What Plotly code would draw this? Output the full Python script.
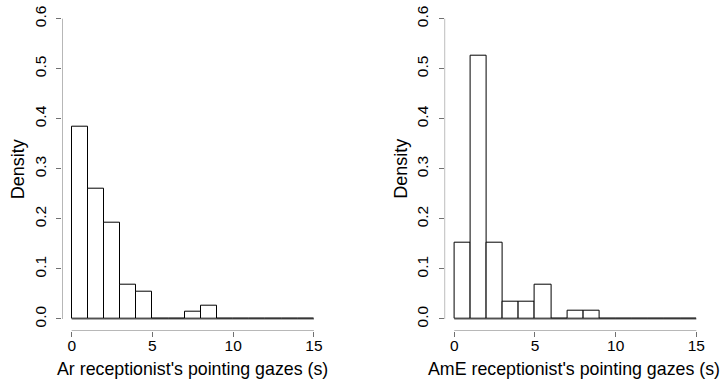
import plotly.graph_objects as go

bin_edges = list(range(0, 16))
ar_density = [28/73, 19/73, 14/73, 5/73, 4/73, 0, 0, 1/73, 2/73, 0, 0, 0, 0, 0, 0]
ame_density = [9/59, 31/59, 9/59, 2/59, 2/59, 4/59, 0, 1/59, 1/59, 0, 0, 0, 0, 0, 0]
x_ticks = [0, 5, 10, 15]
y_ticks = [0.0, 0.1, 0.2, 0.3, 0.4, 0.5, 0.6]
y_ticktext = ["0.0", "0.1", "0.2", "0.3", "0.4", "0.5", "0.6"]
x_titles = ["Ar receptionist's pointing gazes (s)", "AmE receptionist's pointing gazes (s)"]
y_title = "Density"

W, H = 723, 387
FONT = "Liberation Sans, Arial, Helvetica, sans-serif"
AXC = "#707070"

panels = [
    dict(dens=ar_density, left=62.0, right=323.6, tcx=192.5),
    dict(dens=ame_density, left=444.6, right=706.0, tcx=574.0),
]
top_px, bot_px = 6.7, 331.0
ydom = [1 - bot_px / H, 1 - top_px / H]

fig = go.Figure()
centers = [(bin_edges[i] + bin_edges[i + 1]) / 2 for i in range(len(bin_edges) - 1)]
widths = [bin_edges[i + 1] - bin_edges[i] for i in range(len(bin_edges) - 1)]

for k, p in enumerate(panels):
    xa = "x" if k == 0 else "x2"
    ya = "y" if k == 0 else "y2"
    fig.add_trace(go.Scatter(x=[bin_edges[0], bin_edges[-1]], y=[0, 0], mode="lines",
                             line=dict(color="#555555", width=1), xaxis=xa, yaxis=ya,
                             showlegend=False, hoverinfo="skip"))
    fig.add_trace(go.Bar(x=centers, y=p["dens"], width=widths, marker=dict(color="white",
                         line=dict(color="black", width=1)), xaxis=xa, yaxis=ya,
                         showlegend=False))
    xkey = "xaxis" if k == 0 else "xaxis2"
    ykey = "yaxis" if k == 0 else "yaxis2"
    fig.update_layout(**{
        xkey: dict(domain=[p["left"] / W, p["right"] / W], range=[-0.6, 15.6],
                   tickvals=x_ticks, ticks="outside", ticklen=5, tickcolor=AXC,
                   ticklabelstandoff=-5,
                   showline=False, showgrid=False, zeroline=False, automargin=False,
                   tickfont=dict(family=FONT, size=15.5, color="black"),
                   anchor=ya),
        ykey: dict(domain=ydom, range=[-0.024, 0.624], tickvals=y_ticks, ticktext=y_ticktext,
                   ticks="outside", ticklen=5, tickcolor=AXC, tickangle=-90,
                   ticklabelstandoff=4,
                   showline=False, showgrid=False, zeroline=False, automargin=False,
                   tickfont=dict(family=FONT, size=15.5, color="black"),
                   anchor=xa),
    })
    fig.add_shape(type="line", xref=xa, yref=ya, x0=-0.6, x1=-0.6, y0=y_ticks[0], y1=y_ticks[-1],
                  line=dict(color=AXC, width=1))
    fig.add_shape(type="line", xref=xa, yref=ya, x0=x_ticks[0], x1=x_ticks[-1], y0=-0.024, y1=-0.024,
                  line=dict(color=AXC, width=1))
    fig.add_annotation(text=x_titles[k], xref="paper", yref="paper",
                       x=p["tcx"] / W, y=1 - 369 / H,
                       xanchor="center", yanchor="middle", showarrow=False,
                       font=dict(family=FONT, size=17.8, color="black"))
    fig.add_annotation(text=y_title, xref="paper", yref="paper",
                       x=(p["left"] - 43.7) / W, y=(ydom[0] + ydom[1]) / 2,
                       xanchor="center", yanchor="middle", textangle=-90, showarrow=False,
                       font=dict(family=FONT, size=18, color="black"))

fig.update_layout(width=W, height=H, margin=dict(l=0, r=0, t=0, b=0),
                  plot_bgcolor="white", paper_bgcolor="white", bargap=0)
fig.write_html("out.html", config={"displayModeBar": False},
               post_script="document.body.style.margin='0';document.body.style.overflow='hidden';")
